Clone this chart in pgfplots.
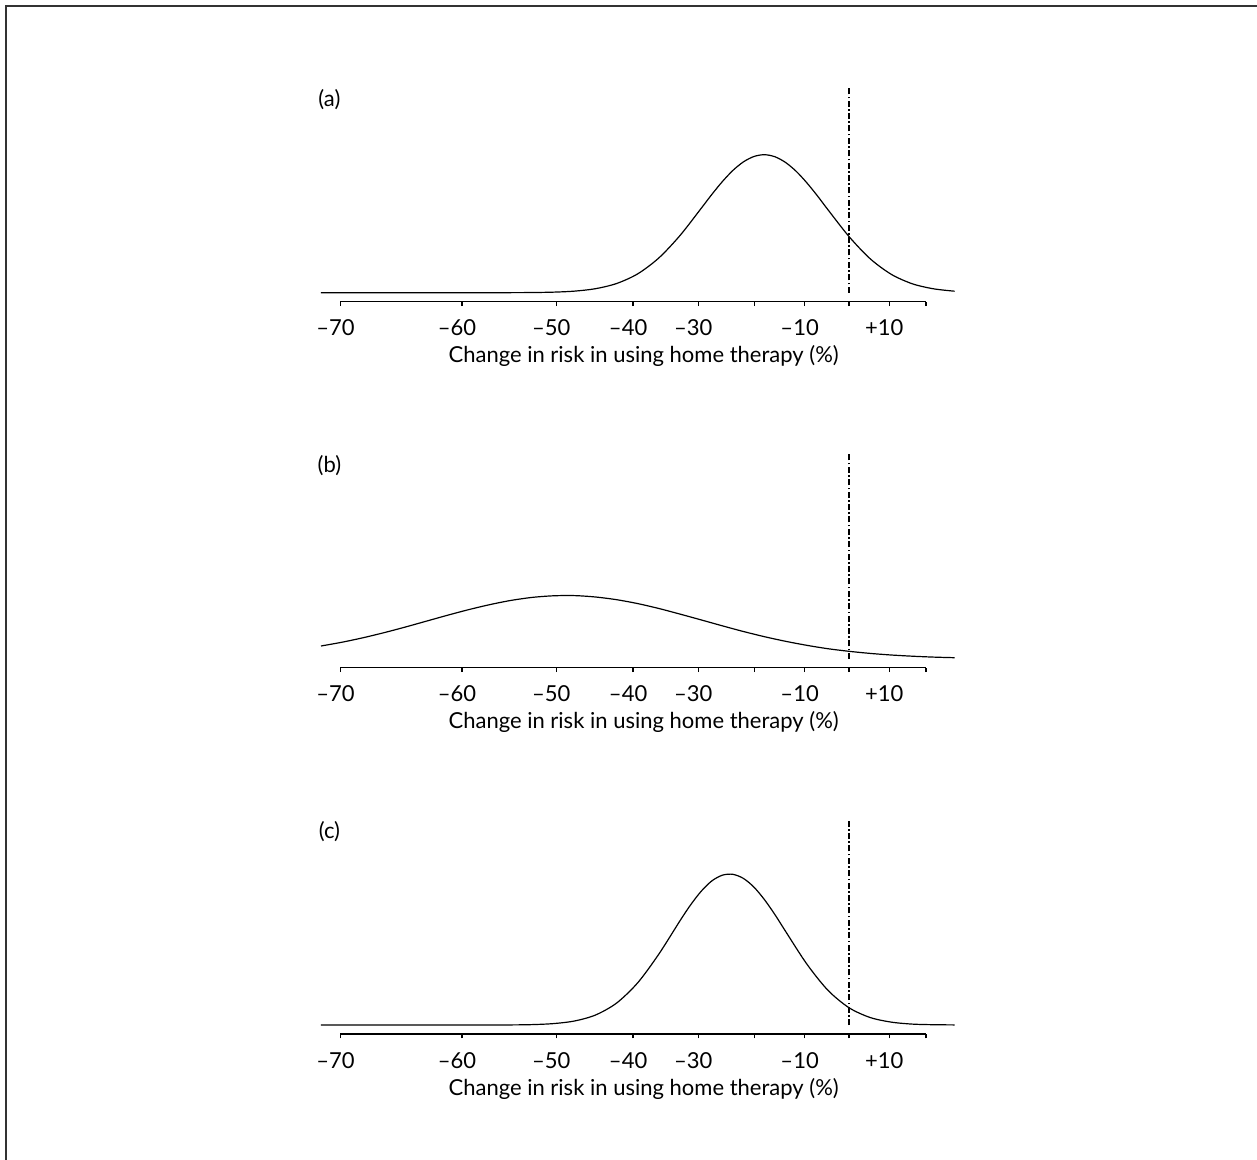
\documentclass[border=0pt]{standalone}
\usepackage{fontspec}
\setmainfont{Lato}
\usepackage{pgfplots}
\pgfplotsset{compat=1.18}

\newcommand{\lblfont}{\fontsize{11}{13.2}\selectfont}

\pgfplotsset{panel/.style={
  x=211.2pt, y=0.5pt,
  xmin=-1.204, xmax=0.182, ymin=-9, ymax=210,
  clip=false,
  axis x line=bottom,
  axis y line=none,
  x axis line style={-, line width=0.65pt},
  xtick={-1.204,-0.916,-0.693,-0.511,-0.357,-0.223,-0.105,0,0.0953,0.182},
  xticklabels={\textendash70,\textendash60,\textendash50,\textendash40,\textendash30,{},\textendash10,{},+10,{}},
  tick align=outside,
  major tick length=2.2pt,
  every tick/.style={black, line width=0.65pt},
  tick label style={font=\lblfont},
  xticklabel style={yshift=-3.3pt, xshift=-2.5pt},
  xlabel={Change in risk in using home therapy (\%)},
  xlabel style={font=\lblfont, at={(axis description cs:0.518,0)}, anchor=north, yshift=-18.5pt},
  anchor=south west,
}}

\begin{document}
\begin{tikzpicture}
\useasboundingbox (0pt,0pt) rectangle (628.5pt,-580pt);
\draw[line width=1pt, black!80] (2.85pt,-580pt) -- (2.85pt,-2.85pt) -- (628.5pt,-2.85pt);

% Panel (a)
\begin{axis}[panel, at={(170.2pt,-150.85pt)}]
\addplot[black, line width=0.6pt, smooth, mark=none] coordinates {
(-1.25,0) (-1.0,0) (-0.9,0) (-0.8,0.05) (-0.75,0.17) (-0.70,0.55) (-0.65,1.56) (-0.60,4.02)
(-0.55,9.2) (-0.50,18.9) (-0.45,34.8) (-0.40,57.2) (-0.35,84.3) (-0.325,98.1) (-0.30,111.0)
(-0.275,122.2) (-0.25,130.8) (-0.225,136.2) (-0.20,138.0) (-0.175,135.9) (-0.15,130.2)
(-0.125,121.4) (-0.10,110.0) (-0.075,97.0) (-0.05,83.1) (0.00,56.2) (0.05,34.0) (0.10,18.4)
(0.15,8.9) (0.20,3.9) (0.25,1.5)
};
\addplot[black, line width=0.9pt, dash pattern=on 3pt off 1.2pt on 0.8pt off 1.2pt] coordinates {(0,0) (0,206)};
\node[font=\lblfont] at (axis cs:-1.230,193) {(a)};
\end{axis}

% Panel (b)
\begin{axis}[panel, at={(170.2pt,-333.9pt)}]
\addplot[black, line width=0.6pt, smooth, mark=none] coordinates {
(-1.25,12.8) (-1.20,16.6) (-1.15,21.1) (-1.10,26.2) (-1.05,31.8) (-1.00,37.7) (-0.95,43.6)
(-0.90,49.2) (-0.85,54.2) (-0.80,58.4) (-0.75,61.4) (-0.70,63.0) (-0.65,63.2) (-0.60,61.8)
(-0.55,59.1) (-0.50,55.2) (-0.45,50.3) (-0.40,44.7) (-0.35,38.9) (-0.30,33.0) (-0.25,27.3)
(-0.20,22.1) (-0.15,17.5) (-0.10,13.5) (-0.05,10.1) (0.00,7.5) (0.05,5.4) (0.10,3.8)
(0.15,2.6) (0.20,1.7) (0.25,1.1)
};
\addplot[black, line width=0.9pt, dash pattern=on 3pt off 1.2pt on 0.8pt off 1.2pt] coordinates {(0,0) (0,206)};
\node[font=\lblfont] at (axis cs:-1.230,193) {(b)};
\end{axis}

% Panel (c)
\begin{axis}[panel, at={(170.2pt,-517pt)}]
\addplot[black, line width=0.6pt, smooth, mark=none] coordinates {
(-1.25,0) (-1.0,0) (-0.9,0) (-0.80,0.1) (-0.75,0.4) (-0.70,1.4) (-0.65,4.0) (-0.60,10.0)
(-0.55,22.0) (-0.50,42.3) (-0.45,71.0) (-0.40,104.3) (-0.375,120.1) (-0.35,133.7) (-0.325,144.0)
(-0.30,149.8) (-0.275,150.7) (-0.25,146.6) (-0.225,137.9) (-0.20,125.3) (-0.175,110.2)
(-0.15,93.6) (-0.10,61.1) (-0.05,34.8) (0.00,17.3) (0.05,7.5) (0.10,2.9) (0.15,0.9)
(0.20,0.3) (0.25,0.1)
};
\addplot[black, line width=0.9pt, dash pattern=on 3pt off 1.2pt on 0.8pt off 1.2pt] coordinates {(0,0) (0,206)};
\node[font=\lblfont] at (axis cs:-1.230,193) {(c)};
\end{axis}
\end{tikzpicture}
\end{document}
